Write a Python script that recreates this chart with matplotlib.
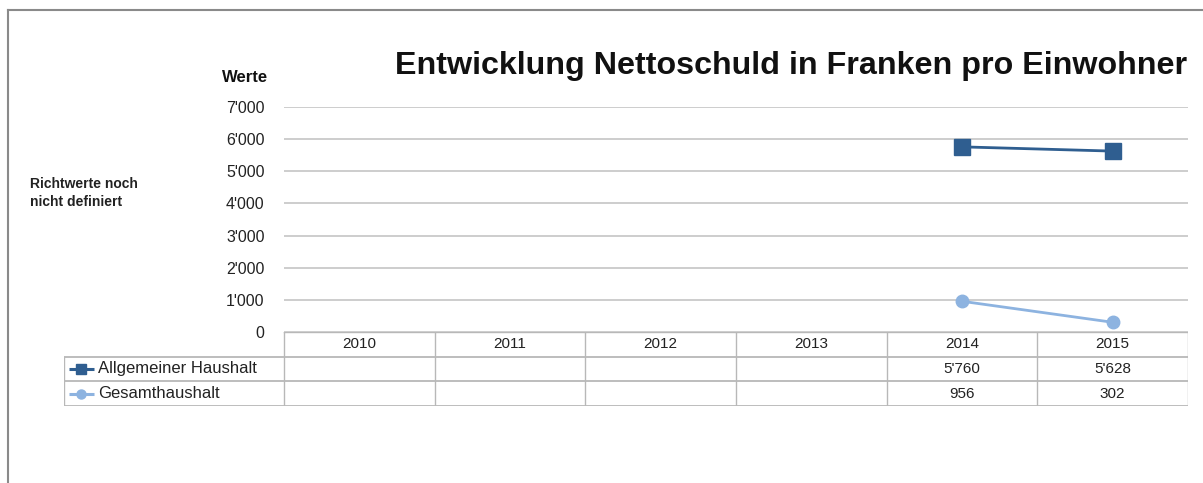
import matplotlib.pyplot as plt
from matplotlib.lines import Line2D
import numpy as np

plt.rcParams['font.family'] = ['Liberation Sans', 'DejaVu Sans']

years = ["2010", "2011", "2012", "2013", "2014", "2015"]
allgemein = [None, None, None, None, 5760, 5628]
gesamt = [None, None, None, None, 956, 302]
series_names = ["Allgemeiner Haushalt", "Gesamthaushalt"]
yticks = [0, 1000, 2000, 3000, 4000, 5000, 6000, 7000]

dark = "#2F5E90"
light = "#8DB3E0"
grid = "#c9c9c9"


def fmt(v):
    return f"{v:,}".replace(",", "'")


W, H = 1203, 483
fig = plt.figure(figsize=(W / 100, H / 100), dpi=100)

# outer frame
fig.add_artist(Line2D([8 / W, 8 / W], [0, 1 - 10 / H], color="#8a8a8a", lw=1.5))
fig.add_artist(Line2D([8 / W, 1], [1 - 10 / H, 1 - 10 / H], color="#8a8a8a", lw=1.5))

x0, x1 = 284, 1188
ytop, ybot = 107, 332
ax = fig.add_axes([x0 / W, 1 - ybot / H, (x1 - x0) / W, (ybot - ytop) / H])
ax.set_xlim(-0.5, len(years) - 0.5)
ax.set_ylim(0, 7000)
for s in ax.spines.values():
    s.set_visible(False)
for t in yticks:
    ax.axhline(t, color=grid, lw=1.3, zorder=0)
ax.set_yticks(yticks)
ax.set_yticklabels([fmt(t) for t in yticks], fontsize=11.5, color="#222222")
ax.tick_params(axis="y", length=0, pad=14)
ax.set_xticks([])

xs = np.arange(len(years))
ya = [np.nan if v is None else v for v in allgemein]
yg = [np.nan if v is None else v for v in gesamt]
ax.plot(xs, ya, color=dark, lw=2, marker="s", ms=11, zorder=3)
ax.plot(xs, yg, color=light, lw=2, marker="o", ms=9, zorder=3)

# data table below the plot
tl = 64
unit = (x1 - x0) / len(years)
tax = fig.add_axes([tl / W, 1 - 406 / H, (x1 - tl) / W, (406 - ybot) / H])
lx = -0.5 - (x0 - tl) / unit
tax.set_xlim(lx, len(years) - 0.5)
tax.set_ylim(0, 3)
tax.axis("off")
tc = "#b8b8b8"
for i in range(len(years) + 1):
    tax.plot([i - 0.5, i - 0.5], [0, 3], color=tc, lw=1)
tax.plot([lx, lx], [0, 2], color=tc, lw=1)
tax.plot([-0.5, len(years) - 0.5], [3, 3], color=tc, lw=1)
for yy in [0, 1, 2]:
    tax.plot([lx, len(years) - 0.5], [yy, yy], color=tc, lw=1.3)
for i, y in enumerate(years):
    tax.text(i, 2.5, y, ha="center", va="center", fontsize=11, color="#222222")

rows = [allgemein, gesamt]
keys = [(dark, "s"), (light, "o")]
for r, (vals, name, (c, m)) in enumerate(zip(rows, series_names, keys)):
    yc = 1.5 - r
    for i, v in enumerate(vals):
        if v is not None:
            tax.text(i, yc, fmt(v), ha="center", va="center", fontsize=11, color="#222222")
    tax.text(lx + 0.225, yc, name, ha="left", va="center", fontsize=12, color="#222222")
    tax.plot([lx + 0.03, lx + 0.115, lx + 0.2], [yc, yc, yc], color=c, lw=2.2,
             marker=m, ms=6.5, markevery=[1], solid_capstyle="butt")

fig.text(791 / W, 1 - 66 / H, "Entwicklung Nettoschuld in Franken pro Einwohner",
         ha="center", va="center", fontsize=23.2, fontweight="bold", color="#111111")
fig.text(268 / W, 1 - 78 / H, "Werte", ha="right", va="center", fontsize=12,
         fontweight="bold", color="#111111")
fig.text(30 / W, 1 - 193 / H, "Richtwerte noch\nnicht definiert", ha="left", va="center",
         fontsize=10, fontweight="bold", color="#222222", linespacing=1.3)

fig.savefig("out.png", dpi=100)
